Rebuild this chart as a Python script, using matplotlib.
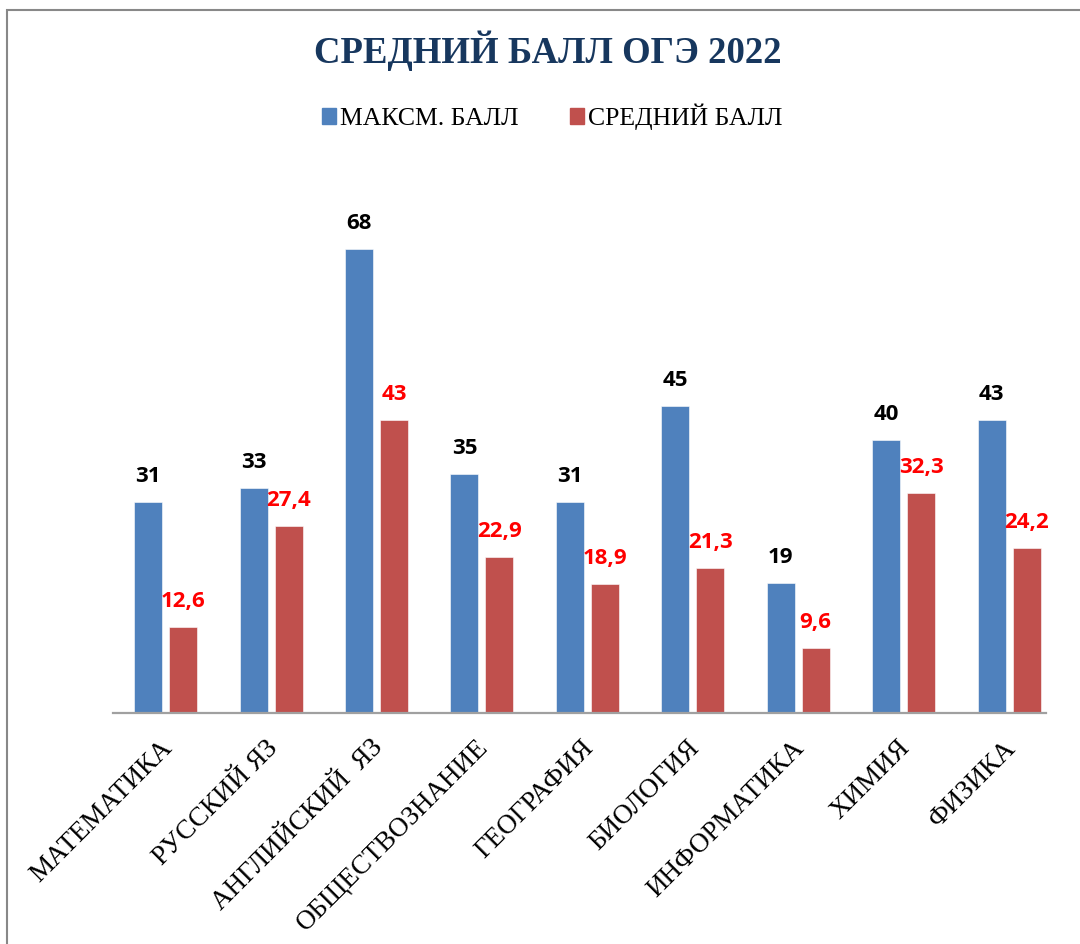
import matplotlib.pyplot as plt
import matplotlib.transforms as mtransforms
from matplotlib.patches import Rectangle, Patch
import numpy as np

# данные
subjects = ['МАТЕМАТИКА', 'РУССКИЙ ЯЗ', 'АНГЛИЙСКИЙ  ЯЗ', 'ОБЩЕСТВОЗНАНИЕ', 'ГЕОГРАФИЯ',
            'БИОЛОГИЯ', 'ИНФОРМАТИКА', 'ХИМИЯ', 'ФИЗИКА']
max_ball = [31, 33, 68, 35, 31, 45, 19, 40, 43]
avg_ball = [12.6, 27.4, 43, 22.9, 18.9, 21.3, 9.6, 32.3, 24.2]

blue = '#4F81BD'
red = '#C0504D'

fig = plt.figure(figsize=(10.8, 9.44), dpi=100)
ax = fig.add_axes([0.1046, 0.2447, 0.8639, 0.5419])

x = np.arange(len(subjects))
w = 0.265
b1 = ax.bar(x - 0.166, max_ball, w, color=blue, edgecolor='white', linewidth=0.4)
b2 = ax.bar(x + 0.166, avg_ball, w, color=red, edgecolor='white', linewidth=0.4)

def fmt(v):
    return f'{v:g}'.replace('.', ',')

for xi, v in zip(x, max_ball):
    ax.annotate(fmt(v), (xi - 0.166, v), xytext=(0, 14.4), textcoords='offset points',
                ha='center', va='baseline', fontsize=16, fontweight='bold',
                family='Open Sans', color='black')
for xi, v in zip(x, avg_ball):
    ax.annotate(fmt(v), (xi + 0.166, v), xytext=(0, 14.4), textcoords='offset points',
                ha='center', va='baseline', fontsize=16, fontweight='bold',
                family='Open Sans', color='#FF0000')

ax.set_xlim(-0.5, 8.35)
ax.set_ylim(0, 75)
ax.set_yticks([])
for s in ['top', 'right', 'left']:
    ax.spines[s].set_visible(False)
ax.spines['bottom'].set_color('#A0A0A0')
ax.spines['bottom'].set_linewidth(1.6)

ax.set_xticks(x)
ax.set_xticklabels(subjects, rotation=45, ha='right', va='top', rotation_mode='anchor',
                   fontsize=19.5, family='Liberation Serif')
ax.tick_params(axis='x', length=0, pad=16)
offset = mtransforms.ScaledTranslation(-0.06, 0, fig.dpi_scale_trans)
for lab in ax.get_xticklabels():
    lab.set_transform(lab.get_transform() + offset)

fig.text(0.507, 1 - 63 / 944, 'СРЕДНИЙ БАЛЛ ОГЭ 2022', ha='center', va='baseline',
         fontsize=26.5, fontweight='bold', family='Liberation Serif', color='#17375E')

handles = [Patch(color=blue, label='МАКСМ. БАЛЛ'), Patch(color=red, label='СРЕДНИЙ БАЛЛ')]
fig.legend(handles=handles, loc='center', bbox_to_anchor=(0.511, 1 - 117 / 944), ncol=2,
           frameon=False, handlelength=0.55, handleheight=0.55, handletextpad=0.15,
           columnspacing=2.0, prop={'family': 'Liberation Serif', 'size': 18.5})

# рамка
fig.patches.append(Rectangle((7 / 1080, -0.05), 1.2, 1 - 10 / 944 + 0.05, transform=fig.transFigure,
                             fill=False, edgecolor='#888888', linewidth=1.5, clip_on=False))

fig.savefig('out.png', dpi=100)
